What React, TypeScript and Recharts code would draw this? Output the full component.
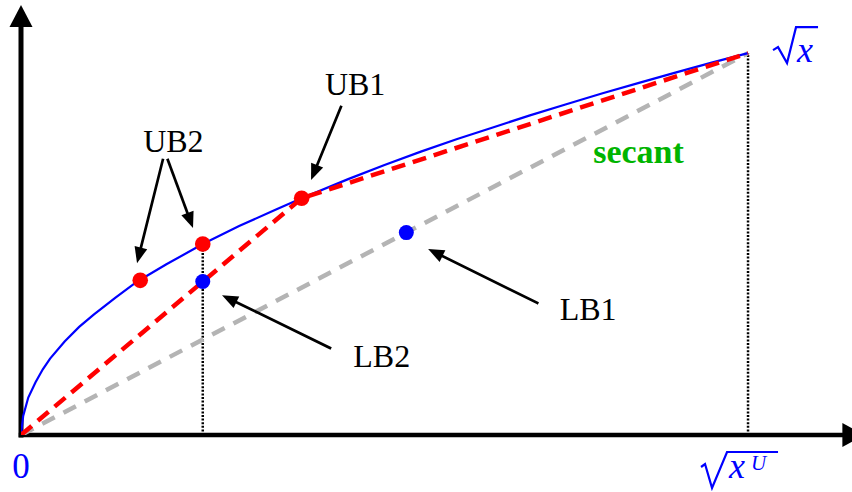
import React from "react";
import {
  ComposedChart,
  Line,
  XAxis,
  YAxis,
  ReferenceLine,
  ReferenceDot,
} from "recharts";

// sqrt(x) curve, sampled on [0, xU] with xU = 100
const curveX = [0, 0.3, 1, 2, 3, 4, 6, 8, 10, 13, 16, 20, 25, 30, 35, 38.6, 45, 50, 55, 60, 65, 70, 75, 80, 85, 90, 95, 100];
const curveY = [0, 0.5, 0.98, 1.38, 1.72, 2.0, 2.45, 2.83, 3.15, 3.6, 4.02, 4.47, 5.0, 5.47, 5.9, 6.2, 6.7, 7.07, 7.42, 7.75, 8.06, 8.37, 8.66, 8.95, 9.22, 9.49, 9.75, 10];

// secant between the end points
const secantX = [0, 100];
const secantY = [0, 10];

// piecewise upper bound through the tangent break point
const upperX = [0, 38.6, 100];
const upperY = [0, 6.2, 10];

// highlighted points
const ubX = [16.4, 25, 38.6];
const ubY = [4.05, 5.0, 6.2];
const lbX = [25, 53];
const lbY = [4.02, 5.3];

// vertical guides
const guideX = [25, 100];
const guideTop = [5.0, 10];

const X_MAX = 114.3;
const Y_MAX = 11.26;

const toRows = (xs: number[], ys: number[]) => xs.map((x, i) => ({ x, y: ys[i] }));

const curveData = toRows(curveX, curveY);
const secantData = toRows(secantX, secantY);
const upperData = toRows(upperX, upperY);

// annotation arrows: [from, to] in chart coordinates
const pointers = [
  { from: { x: 44.0, y: 8.59 }, to: { x: 39.9, y: 6.68 } },
  { from: { x: 19.5, y: 7.2 }, to: { x: 15.96, y: 4.5 } },
  { from: { x: 20.2, y: 7.2 }, to: { x: 23.66, y: 5.42 } },
  { from: { x: 42.5, y: 2.28 }, to: { x: 27.65, y: 3.66 } },
  { from: { x: 71.0, y: 3.46 }, to: { x: 56.0, y: 4.87 } },
];

const notes = [
  { text: "UB1", x: 41.8, y: 8.9, color: "#000", bold: false, size: 32 },
  { text: "UB2", x: 16.8, y: 7.41, color: "#000", bold: false, size: 32 },
  { text: "LB2", x: 45.7, y: 1.78, color: "#000", bold: false, size: 32 },
  { text: "LB1", x: 74.1, y: 3.01, color: "#000", bold: false, size: 32 },
  { text: "secant", x: 78.7, y: 7.12, color: "#00b400", bold: true, size: 34 },
];

const SERIF = "'Liberation Serif', 'DejaVu Serif', serif";
const BLUE = "#0000ff";

const arrowShape = (head: number, half: number, width: number, extra = 0) => (p: any) => {
  const { x1, y1 } = p;
  const dx = p.x2 - x1;
  const dy = p.y2 - y1;
  const len = Math.hypot(dx, dy) || 1;
  const ux = dx / len;
  const uy = dy / len;
  const x2 = p.x2 + ux * extra;
  const y2 = p.y2 + uy * extra;
  const bx = x2 - ux * head;
  const by = y2 - uy * head;
  return (
    <g>
      <line x1={x1} y1={y1} x2={bx + ux} y2={by + uy} stroke="#000" strokeWidth={width} strokeLinecap="square" />
      <polygon
        points={`${x2},${y2} ${bx - uy * half},${by + ux * half} ${bx + uy * half},${by - ux * half}`}
        fill="#000"
      />
    </g>
  );
};

const axisArrow = arrowShape(22, 11.5, 5);
const xAxisArrow = arrowShape(22, 12, 4.5, 0);
const pointerArrow = arrowShape(16, 6.5, 2.7);

const noteShape = (n: (typeof notes)[number]) => (p: any) => (
  <text
    x={p.cx}
    y={p.cy}
    fill={n.color}
    fontFamily={SERIF}
    fontSize={n.size}
    fontWeight={n.bold ? "bold" : "normal"}
  >
    {n.text}
  </text>
);

const sqrtXLabel = (p: any) => {
  const { cx, cy } = p;
  return (
    <g>
      <path
        d={`M${cx + 25} ${cy - 3} L${cx + 30} ${cy - 6} L${cx + 39} ${cy + 10} L${cx + 48} ${cy - 26} L${cx + 70} ${cy - 26}`}
        fill="none"
        stroke={BLUE}
        strokeWidth={2.2}
      />
      <text x={cx + 49} y={cy + 9} fill={BLUE} fontFamily={SERIF} fontStyle="italic" fontSize={36}>
        x
      </text>
    </g>
  );
};

const sqrtXULabel = (p: any) => {
  const { cx, cy } = p;
  return (
    <g>
      <path
        d={`M${cx - 47} ${cy + 32} L${cx - 43} ${cy + 29} L${cx - 36} ${cy + 53} L${cx - 21} ${cy + 17} L${cx + 30} ${cy + 17}`}
        fill="none"
        stroke={BLUE}
        strokeWidth={2.2}
      />
      <text x={cx - 19} y={cy + 43} fill={BLUE} fontFamily={SERIF} fontStyle="italic" fontSize={36}>
        x
      </text>
      <text x={cx + 3} y={cy + 35} fill={BLUE} fontFamily={SERIF} fontStyle="italic" fontSize={21}>
        U
      </text>
    </g>
  );
};

const zeroLabel = (p: any) => (
  <text x={p.cx} y={p.cy + 43} fill={BLUE} fontFamily={SERIF} fontSize={35} textAnchor="middle">
    0
  </text>
);

export default function App() {
  return (
    <div style={{ position: "absolute", left: 0, top: 0, background: "#fff" }}>
      <ComposedChart width={852} height={492} margin={{ top: 5, right: 0, bottom: 57, left: 21 }}>
        <XAxis type="number" dataKey="x" domain={[0, X_MAX]} hide allowDataOverflow />
        <YAxis type="number" dataKey="y" domain={[0, Y_MAX]} hide allowDataOverflow />

        {/* axes */}
        <ReferenceLine segment={[{ x: 0, y: 0 }, { x: 0, y: Y_MAX }]} ifOverflow="visible" shape={axisArrow} />
        <ReferenceLine segment={[{ x: 0, y: 0 }, { x: 116, y: 0 }]} ifOverflow="visible" shape={xAxisArrow} />

        {/* vertical guides */}
        {guideX.map((gx, i) => (
          <ReferenceLine
            key={`g${i}`}
            segment={[{ x: gx, y: 0 }, { x: gx, y: guideTop[i] }]}
            ifOverflow="visible"
            stroke="#000"
            strokeWidth={2.5}
            strokeDasharray="2 1.6"
          />
        ))}

        <Line
          data={secantData}
          dataKey="y"
          type="linear"
          stroke="#b4b4b4"
          strokeWidth={4.5}
          strokeDasharray="14 10"
          dot={false}
          activeDot={false}
          isAnimationActive={false}
        />
        <Line
          data={curveData}
          dataKey="y"
          type="linear"
          stroke={BLUE}
          strokeWidth={2.2}
          dot={false}
          activeDot={false}
          isAnimationActive={false}
        />
        <Line
          data={upperData}
          dataKey="y"
          type="linear"
          stroke="#ff0000"
          strokeWidth={4.5}
          strokeDasharray="14 8"
          dot={false}
          activeDot={false}
          isAnimationActive={false}
        />

        {ubX.map((x, i) => (
          <ReferenceDot key={`ub${i}`} x={x} y={ubY[i]} r={7.8} fill="#ff0000" stroke="none" ifOverflow="visible" />
        ))}
        {lbX.map((x, i) => (
          <ReferenceDot key={`lb${i}`} x={x} y={lbY[i]} r={7.5} fill={BLUE} stroke="none" ifOverflow="visible" />
        ))}

        {pointers.map((a, i) => (
          <ReferenceLine key={`a${i}`} segment={[a.from, a.to]} ifOverflow="visible" shape={pointerArrow} />
        ))}

        {notes.map((n, i) => (
          <ReferenceDot key={`n${i}`} x={n.x} y={n.y} r={0} ifOverflow="visible" shape={noteShape(n)} />
        ))}

        <ReferenceDot x={100} y={10} r={0} ifOverflow="visible" shape={sqrtXLabel} />
        <ReferenceDot x={100} y={0} r={0} ifOverflow="visible" shape={sqrtXULabel} />
        <ReferenceDot x={0} y={0} r={0} ifOverflow="visible" shape={zeroLabel} />
      </ComposedChart>
    </div>
  );
}
